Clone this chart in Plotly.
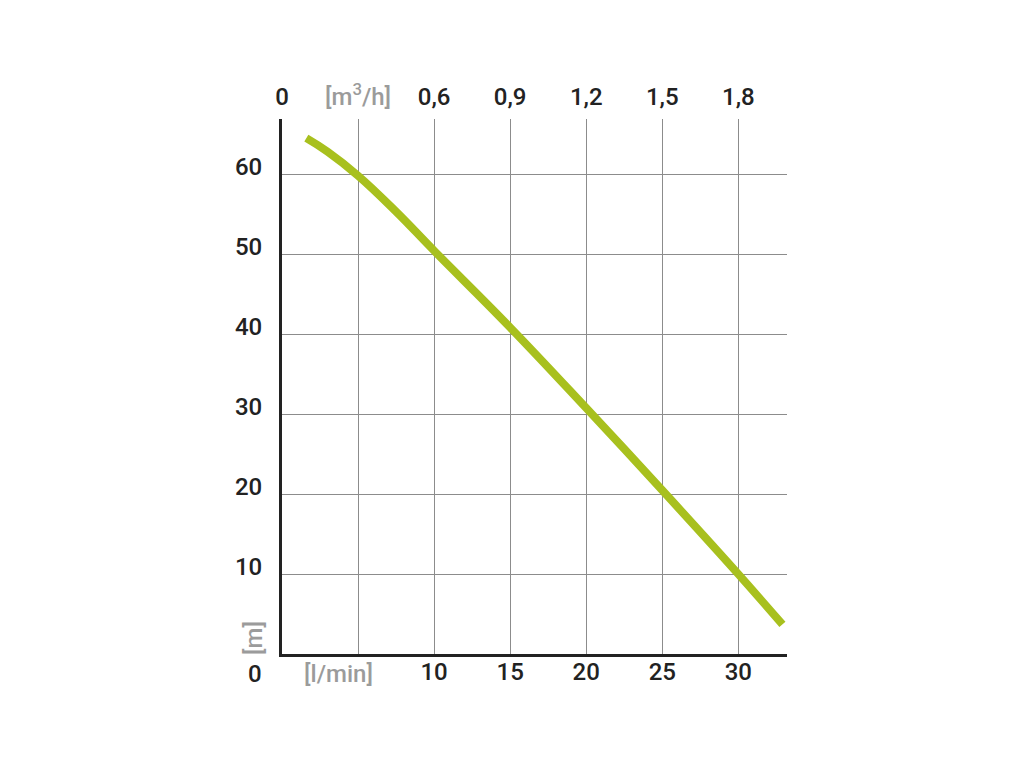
import plotly.graph_objects as go

# Data
flow_lmin = [1.6, 3, 5, 7.5, 10, 15, 20, 25, 30, 32.9]
head_m = [64.6, 62.9, 59.9, 55.4, 50.5, 40.9, 30.8, 20.5, 10.0, 3.7]

bottom_tickvals = [5, 10, 15, 20, 25, 30]
bottom_ticktext = ["", "10", "15", "20", "25", "30"]
bottom_unit = "[l/min]"
top_tickvals = [0, 5, 10, 15, 20, 25, 30]
top_ticktext = ["0", "[m<sup>3</sup>/h]", "0,6", "0,9", "1,2", "1,5", "1,8"]
y_tickvals = [10, 20, 30, 40, 50, 60]
y_ticktext = ["10", "20", "30", "40", "50", "60"]
y_unit = "[m]"

GRAY = "#9b9b9b"
DARK = "#222222"
GREEN = "#a8c01e"
FONT = "Roboto"
FS = 24


def gray(t):
    return f"<span style='color:{GRAY}'>{t}</span>"


tt = [gray(t) if t.startswith("[") else t for t in top_ticktext]

fig = go.Figure()
fig.add_trace(go.Scatter(x=flow_lmin, y=head_m, mode="lines",
                         line=dict(color=GREEN, width=8, shape="spline", smoothing=1.2),
                         hoverinfo="skip", showlegend=False))
fig.add_trace(go.Scatter(x=[flow_lmin[0]], y=[head_m[0]], xaxis="x2", mode="markers",
                         marker=dict(opacity=0), hoverinfo="skip", showlegend=False))

fig.update_layout(
    width=1024, height=768,
    margin=dict(l=274, r=245, t=111, b=122),
    paper_bgcolor="white", plot_bgcolor="white",
    font=dict(family=FONT, size=FS, color=DARK, weight=500),
    xaxis=dict(range=[0, 33.2], tickvals=bottom_tickvals, ticktext=bottom_ticktext,
               showgrid=True, gridcolor="#8c8c8c", gridwidth=1,
               showline=True, linecolor=DARK, linewidth=3,
               ticks="", zeroline=False, ticklabelstandoff=-6, fixedrange=True),
    xaxis2=dict(range=[0, 33.2], overlaying="x", side="top", tickvals=top_tickvals,
                ticktext=tt, showgrid=False, showline=False, ticks="",
                zeroline=False, ticklabelstandoff=8, fixedrange=True),
    yaxis=dict(range=[0, 67], tickvals=y_tickvals, ticktext=y_ticktext,
               showgrid=True, gridcolor="#8c8c8c", gridwidth=1,
               showline=True, linecolor=DARK, linewidth=3,
               ticks="", zeroline=False, ticklabelstandoff=12,
               ticklabelshift=-8, fixedrange=True),
)

fig.add_annotation(text="0", x=0, y=0, xref="x", yref="y", xanchor="right", yanchor="top",
                   xshift=-18, yshift=-4, showarrow=False,
                   font=dict(family=FONT, size=FS, color=DARK, weight=500))
fig.add_annotation(text=bottom_unit, x=5, y=0, xref="x", yref="y", xanchor="center", yanchor="top",
                   xshift=-20, yshift=-4, showarrow=False,
                   font=dict(family=FONT, size=FS, color=GRAY, weight=500))
fig.add_annotation(text=y_unit, x=0, y=0, xref="x", yref="y", xanchor="right", yanchor="bottom",
                   xshift=-12, yshift=-3, showarrow=False, textangle=-90,
                   font=dict(family=FONT, size=FS, color=GRAY, weight=500))

fig.write_html("out.html")
